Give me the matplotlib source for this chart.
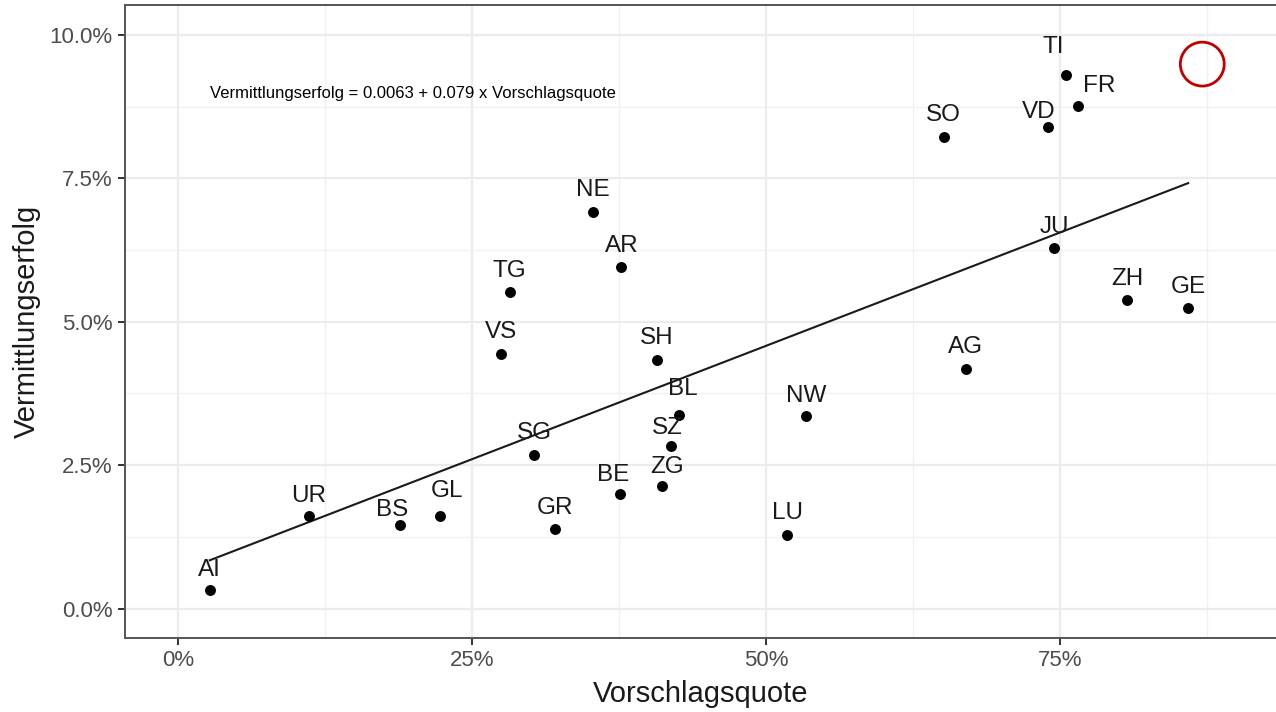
import numpy as np
import matplotlib
matplotlib.use("Agg")
import matplotlib.pyplot as plt
from matplotlib.ticker import FuncFormatter, MultipleLocator

plt.rcParams["font.family"] = ["Liberation Sans", "DejaVu Sans"]

# ── Data (Kantone: Vorschlagsquote vs Vermittlungserfolg) ────────────────────

kantone = ["AI", "UR", "BS", "GL", "GR", "SG", "BE", "ZG", "SZ", "BL",
           "SH", "VS", "TG", "NE", "AR", "LU", "NW", "AG", "JU", "ZH",
           "GE", "SO", "VD", "TI", "FR"]
vorschlagsquote = [0.027, 0.111, 0.189, 0.223, 0.321, 0.303, 0.376, 0.412, 0.419, 0.426,
                   0.407, 0.275, 0.282, 0.353, 0.377, 0.518, 0.534, 0.670, 0.745, 0.807,
                   0.859, 0.651, 0.740, 0.755, 0.765]
vermittlungserfolg = [0.0033, 0.0162, 0.0145, 0.0162, 0.0139, 0.0268, 0.0200, 0.0213, 0.0284, 0.0338,
                      0.0434, 0.0444, 0.0552, 0.0692, 0.0596, 0.0129, 0.0336, 0.0418, 0.0629, 0.0538,
                      0.0524, 0.0822, 0.0840, 0.0930, 0.0876]

# label offsets in pixels (dx, dy), like ggrepel nudges
label_dx = [0, 0, -8, 7, 0, 0, -7, 5, -3, 4,
            0, 0, 0, 0, 0, 0, 0, 0, 0, 0,
            0, 0, -10, -13, 22]
label_dy = [20, 20, 15, 25, 21, 22, 19, 19, 18, 26,
            22, 22, 21, 22, 21, 22, 20, 22, 21, 21,
            21, 22, 15, 28, 20]

intercept, slope = 0.0063, 0.079
highlight_x, highlight_y = 0.871, 0.0949

x = np.array(vorschlagsquote)
y = np.array(vermittlungserfolg)

# ── Plot ──────────────────────────────────────────────────────────────────────

fig = plt.figure(figsize=(12.76, 7.12), dpi=100)
ax = fig.add_axes([0.098, 0.104, 0.902, 0.889])

ax.set_xlim(-0.045, 0.9337)
ax.set_ylim(-0.0051, 0.1052)

ax.xaxis.set_major_locator(MultipleLocator(0.25))
ax.xaxis.set_minor_locator(MultipleLocator(0.125))
ax.yaxis.set_major_locator(MultipleLocator(0.025))
ax.yaxis.set_minor_locator(MultipleLocator(0.0125))
ax.xaxis.set_major_formatter(FuncFormatter(lambda v, _: f"{v*100:.0f}%"))
ax.yaxis.set_major_formatter(FuncFormatter(lambda v, _: f"{v*100:.1f}%"))

ax.grid(True, which="major", color="#ebebeb", linewidth=1.6)
ax.grid(True, which="minor", color="#f0f0f0", linewidth=1.0)
ax.set_axisbelow(True)

for side in ["left", "bottom", "top"]:
    ax.spines[side].set_color("#555555")
    ax.spines[side].set_linewidth(1.4)
ax.spines["right"].set_visible(False)

ax.tick_params(which="major", length=5, width=1.4, color="#333333",
               labelcolor="#4d4d4d", labelsize=16, pad=4)
ax.tick_params(which="minor", length=0)

xs = np.array([x.min(), x.max()])
ax.plot(xs, intercept + slope * xs, color="#1a1a1a", linewidth=1.5, zorder=2)

ax.scatter(x, y, s=62, color="black", zorder=3, linewidths=0)

for k, xi, yi, dx, dy in zip(kantone, x, y, label_dx, label_dy):
    ax.annotate(k, (xi, yi), xytext=(dx, dy), textcoords="offset pixels",
                ha="center", va="center", fontsize=17.5, color="#1a1a1a", zorder=4)

ax.text(0.027, 0.0897, f"Vermittlungserfolg = {intercept} + {slope} x Vorschlagsquote",
        fontsize=12, color="black", ha="left", va="center")

ax.scatter([highlight_x], [highlight_y], s=1000, facecolors="none",
           edgecolors="#c00000", linewidths=2, zorder=5)

ax.set_xlabel("Vorschlagsquote", fontsize=21, color="#1a1a1a", labelpad=6)
ax.set_ylabel("Vermittlungserfolg", fontsize=21, color="#1a1a1a", labelpad=6)

plt.savefig("out.png", dpi=100)
plt.close()
